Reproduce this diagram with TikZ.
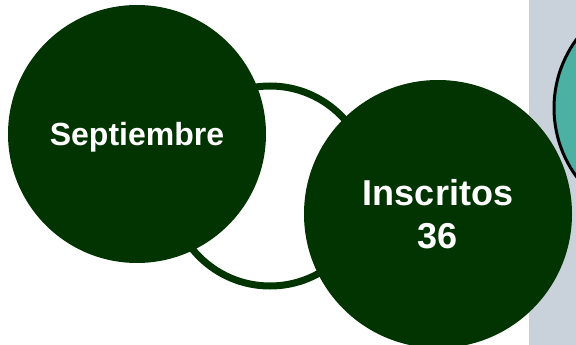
\documentclass[tikz,border=0pt]{standalone}
\usepackage{fontspec}
\setmainfont{Liberation Sans}
\definecolor{dkgreen}{RGB}{1,52,1}
\definecolor{panelgray}{RGB}{201,210,218}
\definecolor{tealc}{RGB}{76,176,162}
\begin{document}
\begin{tikzpicture}[x=1pt,y=-1pt,
  bigdot/.style={circle,fill=dkgreen,inner sep=0pt,text=white,font=\bfseries,align=center},
  ringc/.style={circle,draw=dkgreen,line width=7pt,inner sep=0pt}]
\useasboundingbox (0,0) rectangle (576,345);
\clip (0,0) rectangle (576,345);
\fill[white] (0,0) rectangle (576,345);
\fill[panelgray] (529,0) rectangle (576,345);
\node[circle,fill=tealc,draw=black,line width=3pt,minimum size=232pt,inner sep=0pt] (teal) at (670,108) {};
\node[ringc,minimum size=200pt] (ring) at (270,186) {};
\node[bigdot,minimum size=258pt,font=\fontsize{32}{36}\selectfont\bfseries] (sep) at (137,134) {\raisebox{-12pt}[0pt][0pt]{Septiembre}};
\node[bigdot,minimum size=268pt,font=\fontsize{36}{43}\selectfont\bfseries] (ins) at (438,214) {Inscritos\\36};
\end{tikzpicture}
\end{document}
